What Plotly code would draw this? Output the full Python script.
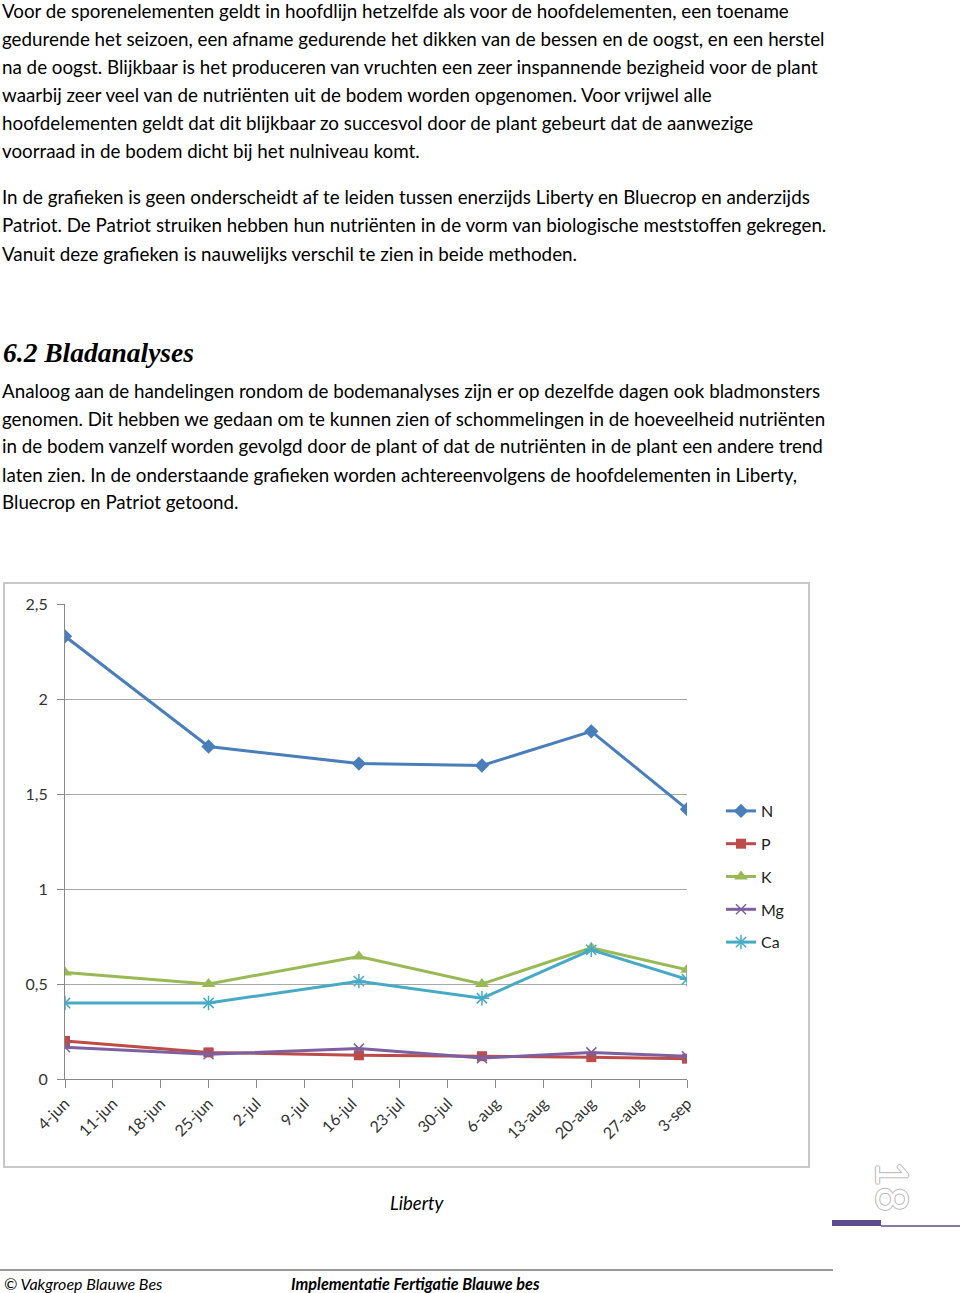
import plotly.graph_objects as go

W, H = 960, 1293

# ---- data ----
dates = ["2010-06-04", "2010-06-25", "2010-07-17", "2010-08-04", "2010-08-20", "2010-09-03"]
N = [2.33, 1.75, 1.66, 1.65, 1.83, 1.42]
P = [0.20, 0.14, 0.125, 0.12, 0.115, 0.107]
K = [0.56, 0.50, 0.645, 0.50, 0.69, 0.575]
Mg = [0.167, 0.13, 0.16, 0.11, 0.14, 0.12]
Ca = [0.40, 0.40, 0.515, 0.425, 0.68, 0.525]

tick_dates = ["2010-06-04", "2010-06-11", "2010-06-18", "2010-06-25", "2010-07-02", "2010-07-09",
              "2010-07-16", "2010-07-23", "2010-07-30", "2010-08-06", "2010-08-13", "2010-08-20",
              "2010-08-27", "2010-09-03"]
tick_text = ["4-jun", "11-jun", "18-jun", "25-jun", "2-jul", "9-jul", "16-jul", "23-jul",
             "30-jul", "6-aug", "13-aug", "20-aug", "27-aug", "3-sep"]
y_ticks = [0, 0.5, 1, 1.5, 2, 2.5]

para1 = [
    "Voor de sporenelementen geldt in hoofdlijn hetzelfde als voor de hoofdelementen, een toename",
    "gedurende het seizoen, een afname gedurende het dikken van de bessen en de oogst, en een herstel",
    "na de oogst. Blijkbaar is het produceren van vruchten een zeer inspannende bezigheid voor de plant",
    "waarbij zeer veel van de nutriënten uit de bodem worden opgenomen. Voor vrijwel alle",
    "hoofdelementen geldt dat dit blijkbaar zo succesvol door de plant gebeurt dat de aanwezige",
    "voorraad in de bodem dicht bij het nulniveau komt.",
]
para2 = [
    "In de grafieken is geen onderscheidt af te leiden tussen enerzijds Liberty en Bluecrop en anderzijds",
    "Patriot. De Patriot struiken hebben hun nutriënten in de vorm van biologische meststoffen gekregen.",
    "Vanuit deze grafieken is nauwelijks verschil te zien in beide methoden.",
]
heading = "6.2 Bladanalyses"
para3 = [
    "Analoog aan de handelingen rondom de bodemanalyses zijn er op dezelfde dagen ook bladmonsters",
    "genomen. Dit hebben we gedaan om te kunnen zien of schommelingen in de hoeveelheid nutriënten",
    "in de bodem vanzelf worden gevolgd door de plant of dat de nutriënten in de plant een andere trend",
    "laten zien. In de onderstaande grafieken worden achtereenvolgens de hoofdelementen in Liberty,",
    "Bluecrop en Patriot getoond.",
]

def px(x):
    return x / W

def py(y):
    return 1 - y / H

BODY = "Lato, Carlito, Calibri, sans-serif"

fig = go.Figure()
series = [
    ("N", N, "#4A7EBB", "diamond", 11, 0),
    ("P", P, "#BE4B48", "square", 10, 0),
    ("K", K, "#98B954", "triangle-up", 12, 0),
    ("Mg", Mg, "#7D60A0", "x-thin-open", 10, 1.5),
    ("Ca", Ca, "#46AAC5", "asterisk-open", 12, 1.5),
]
for name, vals, col, sym, sz, lw in series:
    fig.add_trace(go.Scatter(
        x=dates, y=vals, name=name, mode="lines+markers",
        line=dict(color=col, width=3),
        marker=dict(symbol=sym, size=sz, color=col, line=dict(color=col, width=lw)),
        legendgroup=name,
    ))

fig.update_layout(
    width=W, height=H,
    margin=dict(l=0, r=0, t=0, b=0, autoexpand=False),
    paper_bgcolor="white", plot_bgcolor="white",
    separators=",.",
    showlegend=True,
    legend=dict(x=px(721), y=py(794), xanchor="left", yanchor="top",
                font=dict(family=BODY, size=16, color="#222"),
                tracegroupgap=9, itemwidth=30, bgcolor="rgba(0,0,0,0)"),
    xaxis=dict(domain=[px(65), px(687)], type="date",
               range=["2010-06-04", "2010-09-03"],
               tickvals=tick_dates, ticktext=tick_text, tickangle=-45,
               ticks="outside", ticklen=8, tickcolor="#888", tickwidth=1,
               showline=True, linecolor="#888", linewidth=1,
               showgrid=False, zeroline=False, automargin=False,
               tickfont=dict(family=BODY, size=16, color="#333")),
    yaxis=dict(domain=[py(1079), py(604)], range=[0, 2.5],
               tickvals=y_ticks, ticks="outside", ticklen=7, tickcolor="#888",
               ticklabelstandoff=6,
               showline=True, linecolor="#888", linewidth=1, automargin=False,
               showgrid=True, gridcolor="#a8a8a8", gridwidth=1, zeroline=False,
               tickfont=dict(family=BODY, size=16, color="#333")),
)

ann = []
def line_ann(text, x, y, size=18.8, **kw):
    ann.append(dict(text=text, x=px(x), y=py(y), xref="paper", yref="paper",
                    xanchor="left", yanchor="middle", showarrow=False,
                    font=dict(family=BODY, size=size, color="#000", **kw)))

for i, t in enumerate(para1):
    line_ann(t, 0, 10 + 28.2 * i)
for i, t in enumerate(para2):
    line_ann(t, 0, 197 + 28 * i)
for i, t in enumerate(para3):
    line_ann(t, 0, 390 + 28 * i)

ann.append(dict(text="<b><i>" + heading + "</i></b>", x=px(1), y=py(352), xref="paper", yref="paper",
                xanchor="left", yanchor="middle", showarrow=False,
                font=dict(family="Liberation Serif, serif", size=27.5, color="#000")))
ann.append(dict(text="<i>Liberty</i>", x=px(417), y=py(1203), xref="paper", yref="paper",
                xanchor="center", yanchor="middle", showarrow=False,
                font=dict(family=BODY, size=18.5, color="#000")))
ann.append(dict(text="<i>© Vakgroep Blauwe Bes</i>", x=px(2), y=py(1283), xref="paper", yref="paper",
                xanchor="left", yanchor="middle", showarrow=False,
                font=dict(family=BODY, size=16, color="#000")))
ann.append(dict(text="<b><i>Implementatie Fertigatie Blauwe bes</i></b>", x=px(289), y=py(1283),
                xref="paper", yref="paper", xanchor="left", yanchor="middle", showarrow=False,
                font=dict(family=BODY, size=16.2, color="#000")))
ann.append(dict(text="18", x=px(893), y=py(1186), xref="paper", yref="paper",
                xanchor="center", yanchor="middle", showarrow=False, textangle=90,
                font=dict(family=BODY, size=44, color="#ffffff",
                          shadow="1px 0 0 #b5b5b5, -1px 0 0 #b5b5b5, 0 1px 0 #b5b5b5, 0 -1px 0 #b5b5b5")))
fig.update_layout(annotations=ann)

shapes = [
    dict(type="rect", xref="paper", yref="paper", x0=px(4), x1=px(809), y0=py(1167), y1=py(583),
         line=dict(color="#c8c8c8", width=2), fillcolor="rgba(0,0,0,0)", layer="below"),
    dict(type="line", xref="paper", yref="paper", x0=0, x1=px(833), y0=py(1270), y1=py(1270),
         line=dict(color="#333", width=1.2)),
    dict(type="line", xref="paper", yref="paper", x0=px(832), x1=px(881), y0=py(1223), y1=py(1223),
         line=dict(color="#5F4B8B", width=6)),
    dict(type="line", xref="paper", yref="paper", x0=px(881), x1=1, y0=py(1226), y1=py(1226),
         line=dict(color="#5F4B8B", width=1.5)),
]
fig.update_layout(shapes=shapes)

fig.write_html("out.html")
